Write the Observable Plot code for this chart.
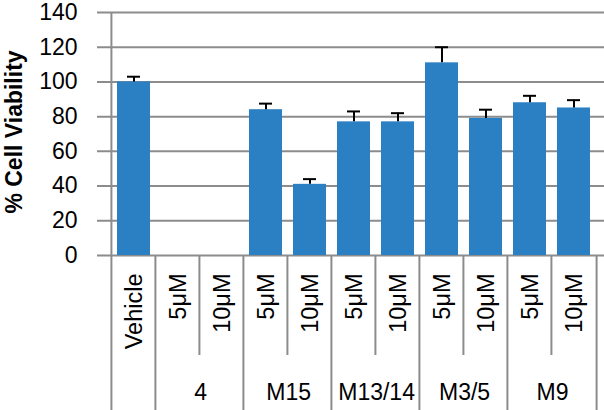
<!DOCTYPE html>
<html>
<head>
<meta charset="utf-8">
<script src="https://cdn.jsdelivr.net/npm/d3@7"></script>
<script src="https://cdn.jsdelivr.net/npm/@observablehq/plot@0.6"></script>
<style>
  html, body { margin: 0; padding: 0; background: #fff; }
</style>
</head>
<body>
<div id="chart"></div>
<script>
const groups = ["", "4", "4", "M15", "M15", "M13/14", "M13/14", "M3/5", "M3/5", "M9", "M9"];
const doses = ["Vehicle", "5μM", "10μM", "5μM", "10μM", "5μM", "10μM", "5μM", "10μM", "5μM", "10μM"];
const viability = [100, 0, 0, 84, 41, 77, 77, 111, 79, 88, 85];
const errorUp = [3, 0, 0, 3.5, 3, 6, 5, 9, 5, 4, 4.5];
const yTicks = [0, 20, 40, 60, 80, 100, 120, 140];
const yTitle = "% Cell Viability";

const W = 604, H = 410, mL = 105, mR = 2, mT = 12, mB = 155;
const step = (W - mL - mR) / doses.length;
const frameH = H - mT - mB;
const FONT = "'Liberation Sans', Arial, Helvetica, sans-serif";
const GRID = "#8c8c8c";
const BLUE = "#2b7fc3";

const data = doses.map((d, i) => ({
  key: groups[i] + "|" + d + "|" + i,
  dose: d,
  group: groups[i],
  v: viability[i],
  e: errorUp[i],
  i
}));
const errData = data.filter(d => d.v > 0);
const fullLeft = data.filter(d => d.i === 0 || d.group !== data[d.i - 1].group);
const innerLeft = data.filter(d => d.i > 0 && d.group === data[d.i - 1].group);
const lastOne = [data[data.length - 1]];
const groupStarts = fullLeft.filter(d => d.group !== "");

const chart = Plot.plot({
  width: W,
  height: H,
  marginLeft: mL,
  marginRight: mR,
  marginTop: mT,
  marginBottom: mB,
  style: { fontFamily: FONT, fontSize: "23px", color: "#000", background: "#fff", overflow: "visible" },
  x: { domain: data.map(d => d.key), padding: 0.25, axis: null },
  y: { domain: [0, 140], ticks: yTicks, tickSize: 0, tickPadding: 28, label: null },
  marks: [
    Plot.ruleY(yTicks, { y: d => d, stroke: GRID, strokeWidth: 2, insetLeft: -8, insetRight: -2 }),
    Plot.ruleX([data[0]], { x: "key", dx: -step / 2, stroke: GRID, strokeWidth: 2 }),
    Plot.barY(data, { x: "key", y: "v", fill: BLUE }),
    Plot.ruleX(errData, { x: "key", y1: "v", y2: d => d.v + d.e, stroke: "#000", strokeWidth: 2 }),
    Plot.tickY(errData, { x: "key", y: d => d.v + d.e, stroke: "#000", strokeWidth: 2, insetLeft: 10, insetRight: 10 }),
    // separators below the category axis
    Plot.ruleX(fullLeft, { x: "key", dx: -step / 2, dy: frameH, stroke: GRID, strokeWidth: 2 }),
    Plot.ruleX(lastOne, { x: "key", dx: step / 2, dy: frameH, stroke: GRID, strokeWidth: 2 }),
    Plot.ruleX(innerLeft, { x: "key", dx: -step / 2, dy: frameH, insetBottom: frameH - 100, stroke: GRID, strokeWidth: 2 }),
    // dose labels
    Plot.text(data, { x: "key", text: "dose", frameAnchor: "bottom", rotate: -90, textAnchor: "end", lineAnchor: "middle", dy: 18, fontSize: 23.5, fill: "#000" }),
    // group labels
    Plot.text(groupStarts, { x: "key", text: "group", frameAnchor: "bottom", dx: step / 2, dy: 137, lineAnchor: "middle", fontSize: 23, fill: "#000" }),
    // y title
    Plot.text([yTitle], { text: d => d, frameAnchor: "left", rotate: -90, textAnchor: "middle", dx: -91, dy: -2, lineAnchor: "middle", fontWeight: "bold", fontSize: 23, fill: "#000" })
  ]
});
document.getElementById("chart").appendChild(chart);
</script>
</body>
</html>
